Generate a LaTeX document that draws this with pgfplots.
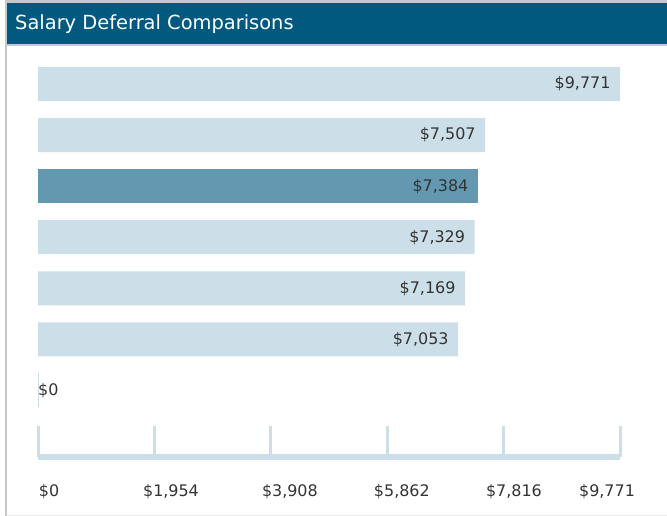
\documentclass[border=0pt]{standalone}
\usepackage{pgfplots}
\pgfplotsset{compat=1.18}
\usepackage{fontspec}
\setmainfont{DejaVu Sans}
\definecolor{titlebg}{HTML}{01597F}
\definecolor{lightbar}{HTML}{CCDEE8}
\definecolor{darkbar}{HTML}{6398B0}
\definecolor{axiscol}{HTML}{CCDFE8}
\definecolor{txt}{HTML}{333333}
\begin{document}
\begin{tikzpicture}
\useasboundingbox (0bp,0bp) rectangle (667bp,516bp);
% frame
\fill[black!22] (4.5bp,0bp) rectangle (6.5bp,516bp);
\fill[black!22] (6.5bp,512.5bp) rectangle (667bp,516bp);
\fill[titlebg] (6.5bp,472bp) rectangle (667bp,513bp);
\fill[black!8!axiscol] (6.5bp,469.5bp) rectangle (667bp,472bp);
\fill[black!8] (6.5bp,0bp) rectangle (667bp,1.5bp);
\node[anchor=base west, text=white, inner sep=0pt, font=\fontsize{19.5}{22}\selectfont] at (15bp,486bp) {Salary Deferral Comparisons};
\begin{axis}[
  at={(38bp,59bp)}, anchor=south west,
  scale only axis, width=582bp, height=397bp,
  xmin=0, xmax=9771, ymin=-0.304, ymax=7.47,
  axis x line*=bottom, axis y line=none,
  axis line style={draw=axiscol, line width=5bp, -},
  xtick={0,1954,3908,5862,7816,9771},
  xticklabels={},
  tick style={draw=axiscol, line width=3bp},
  major tick length=31bp, tick align=inside,
  ytick=\empty,
  extra x ticks={185,2233,4229,6109,7990,9553},
  extra x tick labels={{\$0},{\$1,954},{\$3,908},{\$5,862},{\$7,816},{\$9,771}},
  extra x tick style={major tick length=0pt, tick style={draw=none}},
  xticklabel style={anchor=base, yshift=-39bp, text=txt, font=\fontsize{16}{18}\selectfont},
  clip=false,
  nodes near coords style={anchor=east, xshift=-6bp, text=txt, font=\fontsize{16}{18}\selectfont},
]
\addplot[xbar, fill=lightbar, draw=none, bar width=34bp, point meta=explicit symbolic, nodes near coords]
  coordinates {(9771,7) [\$9,771] (7507,6) [\$7,507] (7329,4) [\$7,329] (7169,3) [\$7,169] (7053,2) [\$7,053]};
\addplot[xbar, fill=darkbar, draw=none, bar width=34bp, point meta=explicit symbolic, nodes near coords]
  coordinates {(7384,5) [\$7,384]};
\addplot[draw=lightbar, line width=1bp] coordinates {(0,0.667) (0,1.333)};
\node[anchor=west, inner sep=0pt, text=txt, font=\fontsize{16}{18}\selectfont] at (axis cs:0,1) {\$0};
\end{axis}
\end{tikzpicture}
\end{document}
